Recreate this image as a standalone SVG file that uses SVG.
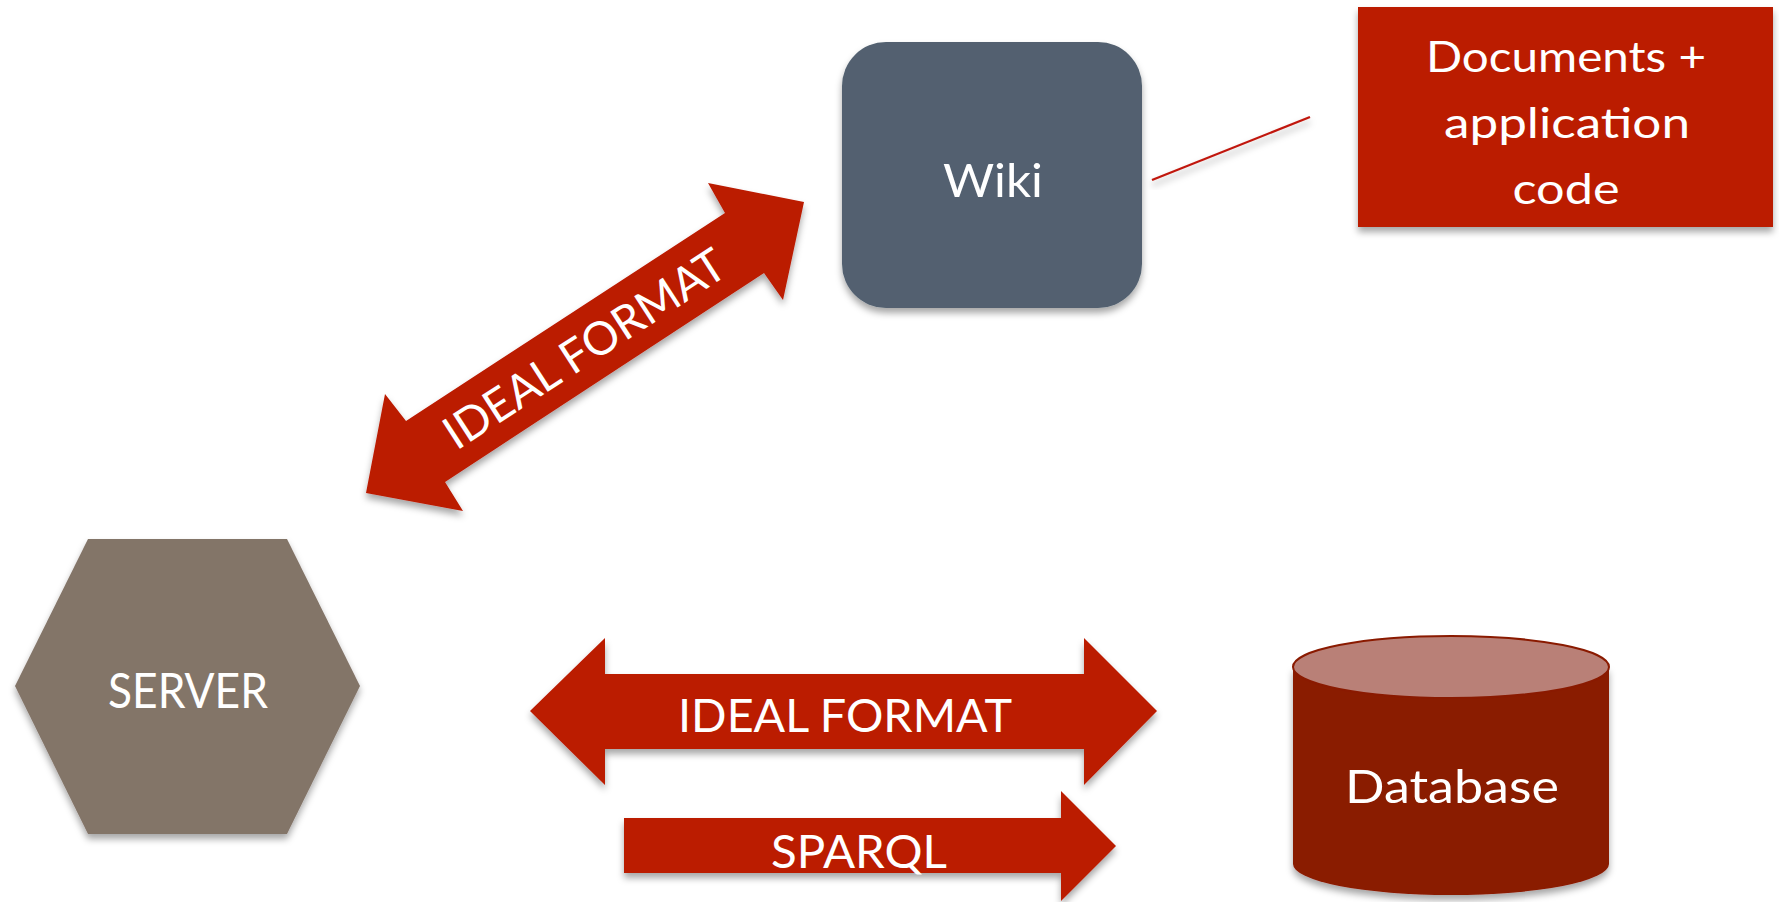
<svg xmlns="http://www.w3.org/2000/svg" width="1779" height="902" viewBox="0 0 1779 902">
<defs>
<filter id="sh" x="-10%" y="-10%" width="120%" height="125%">
<feDropShadow dx="0" dy="5" stdDeviation="3.5" flood-color="#000" flood-opacity="0.35"/>
</filter>
<style>
.lbl{font-family:Lato,"Open Sans","Liberation Sans",sans-serif;fill:#ffffff;text-anchor:middle;}
.red{fill:#bb1a00;}
</style>
</defs>
<rect width="1779" height="902" fill="#ffffff"/>
<g id="connectors">
<line x1="1152" y1="180" x2="1310" y2="117" stroke="#c0180c" stroke-width="2.2" filter="url(#sh)"/>
<g id="arrow-diag">
<polygon class="red" filter="url(#sh)" points="366,493 385,394 406,421 725,213 708,183 804,202 783,300 764,273 445,482 463,511"/>
<text class="lbl" font-size="46" transform="translate(584,348) rotate(-33)" x="0" y="17" textLength="326" lengthAdjust="spacingAndGlyphs">IDEAL FORMAT</text>
</g>
<g id="arrow-horiz">
<polygon class="red" filter="url(#sh)" points="530,711 605,638 605,674 1084,674 1084,638 1157,711 1084,785 1084,749 605,749 605,785"/>
<text class="lbl" font-size="47" x="845" y="732" textLength="334" lengthAdjust="spacingAndGlyphs">IDEAL FORMAT</text>
</g>
<g id="arrow-sparql">
<polygon class="red" filter="url(#sh)" points="624,818 1061,818 1061,791 1116,846 1061,901 1061,873 624,873"/>
<text class="lbl" font-size="46" x="859" y="868" textLength="176" lengthAdjust="spacingAndGlyphs">SPARQL</text>
</g>
</g>
<g id="wiki">
<rect x="842" y="42" width="300" height="266" rx="44" ry="44" fill="#526170" filter="url(#sh)"/>
<text class="lbl" font-size="47" x="993" y="197" textLength="100" lengthAdjust="spacingAndGlyphs">Wiki</text>
</g>
<g id="documents">
<rect x="1358" y="7" width="415" height="220" fill="#bb1a00" filter="url(#sh)"/>
<text class="lbl" font-size="42" x="1566" y="72" textLength="280" lengthAdjust="spacingAndGlyphs">Documents +</text>
<text class="lbl" font-size="42" x="1567" y="138" textLength="246" lengthAdjust="spacingAndGlyphs">application</text>
<text class="lbl" font-size="42" x="1566" y="204" textLength="107" lengthAdjust="spacingAndGlyphs">code</text>
</g>
<g id="server">
<polygon points="88,539 287,539 360,686 287,834 88,834 15,686" fill="#837468" filter="url(#sh)"/>
<text class="lbl" font-size="48" x="188" y="708" textLength="160" lengthAdjust="spacingAndGlyphs">SERVER</text>
</g>
<g id="database">
<path d="M1293,667 L1293,864 A158,31 0 0 0 1609,864 L1609,667 Z" fill="#8a1a00" filter="url(#sh)"/>
<ellipse cx="1451" cy="667" rx="158" ry="31" fill="#b98077" stroke="#8a1a00" stroke-width="2"/>
<text class="lbl" font-size="47" x="1452" y="803" textLength="214" lengthAdjust="spacingAndGlyphs">Database</text>
</g>
</svg>
